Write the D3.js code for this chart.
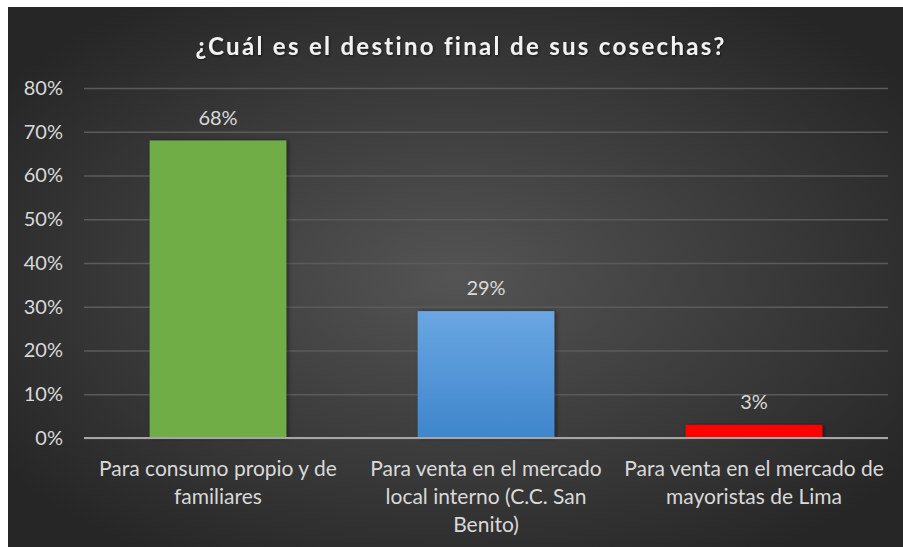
<!DOCTYPE html>
<html>
<head>
<meta charset="utf-8">
<script src="https://cdn.jsdelivr.net/npm/d3@7"></script>
<style>
  html, body { margin: 0; padding: 0; background: #ffffff; }
  svg { display: block; }
</style>
</head>
<body>
<svg id="chart" width="903" height="547"></svg>
<script>
// Chart data
const title = "¿Cuál es el destino final de sus cosechas?";
const categories = [
  "Para consumo propio y de familiares",
  "Para venta en el mercado local interno (C.C. San Benito)",
  "Para venta en el mercado de mayoristas de Lima"
];
const categoryLines = [
  ["Para consumo propio y de", "familiares"],
  ["Para venta en el mercado", "local interno (C.C. San", "Benito)"],
  ["Para venta en el mercado de", "mayoristas de Lima"]
];
const values = [0.68, 0.29, 0.03];
const tickValues = [0, 0.1, 0.2, 0.3, 0.4, 0.5, 0.6, 0.7, 0.8];

const font = "Lato, 'Open Sans', sans-serif";
const svg = d3.select("#chart");
const defs = svg.append("defs");

// Dark radial backdrop
const bg = defs.append("radialGradient").attr("id", "bgGrad")
  .attr("cx", "50%").attr("cy", "50%").attr("r", "62%");
bg.append("stop").attr("offset", "0%").attr("stop-color", "#545454");
bg.append("stop").attr("offset", "100%").attr("stop-color", "#262626");

const blue = defs.append("linearGradient").attr("id", "blueGrad")
  .attr("x1", 0).attr("y1", 0).attr("x2", 0).attr("y2", 1);
blue.append("stop").attr("offset", "0%").attr("stop-color", "#6aa6e2");
blue.append("stop").attr("offset", "100%").attr("stop-color", "#3f86cc");

const shadow = defs.append("filter").attr("id", "barShadow")
  .attr("x", "-10%").attr("y", "-10%").attr("width", "125%").attr("height", "120%");
shadow.append("feDropShadow").attr("dx", 2).attr("dy", 0).attr("stdDeviation", 2)
  .attr("flood-color", "#000").attr("flood-opacity", 0.45);

const textShadow = defs.append("filter").attr("id", "textShadow")
  .attr("x", "-5%").attr("y", "-20%").attr("width", "110%").attr("height", "150%");
textShadow.append("feDropShadow").attr("dx", 1).attr("dy", 1).attr("stdDeviation", 1)
  .attr("flood-color", "#000").attr("flood-opacity", 0.5);

const fills = ["#70ad47", "url(#blueGrad)", "#ff0000"];

svg.append("rect").attr("x", 8).attr("y", 7).attr("width", 895).attr("height", 540)
  .attr("fill", "url(#bgGrad)");

const x = d3.scaleBand().domain(categories).range([84, 888])
  .paddingInner(0.49).paddingOuter(0.245);
const y = d3.scaleLinear().domain([0, 0.8]).range([438, 88]);

// Gridlines and tick labels
const yAxis = d3.axisLeft(y).tickValues(tickValues)
  .tickFormat(d3.format(".0%")).tickSize(-(888 - 84)).tickPadding(21);
const gy = svg.append("g").attr("transform", "translate(84,0)").call(yAxis);
gy.select(".domain").remove();
gy.selectAll(".tick line").attr("stroke", "#5b5b5b").attr("stroke-width", 1.5);
gy.selectAll(".tick text").attr("fill", "#d9d9d9").attr("font-family", font)
  .attr("font-size", 20);

// Bars
svg.append("g").selectAll("rect").data(values).join("rect")
  .attr("x", (d, i) => x(categories[i]))
  .attr("y", d => y(d))
  .attr("width", x.bandwidth())
  .attr("height", d => y(0) - y(d))
  .attr("fill", (d, i) => fills[i])
  .attr("filter", "url(#barShadow)");

// Baseline
svg.append("line").attr("x1", 84).attr("x2", 888).attr("y1", y(0)).attr("y2", y(0))
  .attr("stroke", "#a6a6a6").attr("stroke-width", 2);

// Value labels
svg.append("g").selectAll("text").data(values).join("text")
  .attr("x", (d, i) => x(categories[i]) + x.bandwidth() / 2)
  .attr("y", d => y(d) - 16)
  .attr("text-anchor", "middle")
  .attr("fill", "#d9d9d9").attr("font-family", font).attr("font-size", 20)
  .text(d => d3.format(".0%")(d));

// Category labels
const cat = svg.append("g").selectAll("text").data(categories).join("text")
  .attr("text-anchor", "middle")
  .attr("fill", "#d9d9d9").attr("font-family", font).attr("font-size", 21);
cat.each(function (c, i) {
  const t = d3.select(this);
  categoryLines[i].forEach((line, j) => {
    t.append("tspan").attr("x", x(c) + x.bandwidth() / 2)
      .attr("y", 476 + j * 28).text(line);
  });
});

// Title
svg.append("text").attr("x", 461).attr("y", 55).attr("text-anchor", "middle")
  .attr("fill", "#f2f2f2").attr("font-family", font).attr("font-size", 24)
  .attr("font-weight", "bold").attr("letter-spacing", 2.3)
  .attr("filter", "url(#textShadow)")
  .text(title);
</script>
</body>
</html>
